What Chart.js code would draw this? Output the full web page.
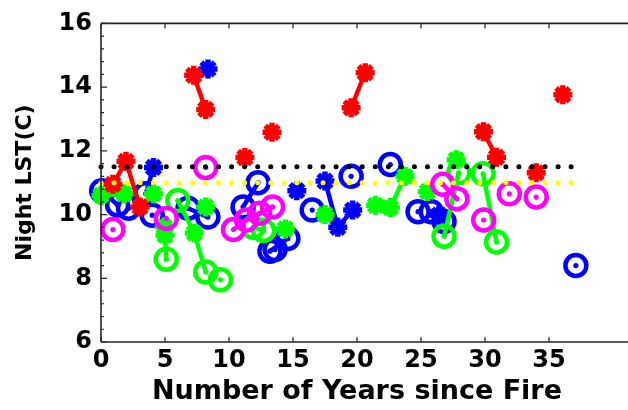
<!DOCTYPE html>
<html><head><meta charset="utf-8">
<script src="https://cdn.jsdelivr.net/npm/chart.js@4/dist/chart.umd.min.js"></script>
<style>html,body{margin:0;padding:0;background:#fff}canvas{display:block}</style>
</head><body>
<canvas id="c" width="628" height="410"></canvas>
<script>
// ---- tick labels ----
const xTicks = [0, 5, 10, 15, 20, 25, 30, 35];
const yTicks = [6, 8, 10, 12, 14, 16];

// ---- reference levels (dotted lines) ----
const refLevels = [11.5, 11.0];
const refColors = ['#000000', '#ffff00'];
const refSpan = [0, 37];

// ---- blue series ----
const blueX     = [0.05, 1.3,  4.1,  3.5,  2.15, 4.0,  6.8,  8.35, 8.36, 12.27, 11.1,  13.2, 14.6, 13.6, 15.3,  16.5,  17.5,  18.5, 19.66, 19.54, 22.6,  24.77, 25.8,  26.4, 26.8, 37.1];
const blueY     = [10.75, 10.3, 11.48, 10.65, 10.2, 9.98, 10.2, 9.92, 14.57, 11.0, 10.24, 8.85, 9.25, 8.9,  10.75, 10.14, 11.05, 9.6,  10.14, 11.2,  11.57, 10.09, 10.09, 9.98, 9.78, 8.4];
const blueKind  = ['o', 'o', '*', 'o', 'o', 'o', 'o', 'o', '*', 'o', 'o', 'o', 'o', 'o', '*', 'o', '*', '*', '*', 'o', 'o', 'o', 'o', '*', 'o', 'o'];
const blueGroup = [1, 1, 2, 2, 3, 4, 5, 5, 6, 7, 7, 8, 8, 9, 10, 11, 12, 12, 12, 13, 14, 15, 16, 16, 16, 17];

// ---- green series ----
const greenX     = [0.0,  1.8,   4.1,   4.95, 5.0,  5.1, 6.0,   7.29, 8.18, 8.18,  9.33, 11.9, 12.7, 14.4, 17.5, 21.45, 22.6,  23.75, 25.5,  26.8, 27.95, 27.75, 29.85, 30.9];
const greenY     = [10.6, 10.65, 10.65, 9.62, 9.35, 8.6, 10.44, 9.42, 8.2,  10.24, 7.95, 9.6,  9.5,  9.55, 10.0, 10.29, 10.22, 11.2,  10.72, 9.32, 11.31, 11.72, 11.28, 9.14];
const greenKind  = ['*', '*', '*', '*', '*', 'o', 'o', '*', 'o', '*', 'o', 'o', 'o', '*', '*', '*', '*', '*', '*', 'o', 'o', '*', 'o', 'o'];
const greenGroup = [1, 1, 2, 3, 3, 3, 4, 4, 4, 5, 6, 7, 7, 8, 9, 10, 10, 10, 11, 12, 12, 13, 14, 14];

// ---- magenta series ----
const magX     = [0.93, 5.1,  8.18,  10.35, 11.37, 12.4,  13.4,  26.7,  27.8, 29.9, 31.9,  34.0];
const magY     = [9.53, 9.88, 11.48, 9.53,  9.83,  10.04, 10.24, 10.95, 10.5, 9.83, 10.65, 10.55];
const magKind  = ['o', 'o', 'o', 'o', 'o', 'o', 'o', 'o', 'o', 'o', 'o', 'o'];
const magGroup = [1, 2, 3, 4, 4, 4, 4, 5, 5, 6, 7, 8];

// ---- red series ----
const redX     = [0.93,  1.95,  3.05,  7.24,  8.18, 11.24, 13.36, 19.54, 20.64, 29.88, 30.9, 34.0,  36.08];
const redY     = [10.95, 11.67, 10.24, 14.37, 13.3, 11.79, 12.58, 13.35, 14.45, 12.6,  11.8, 11.31, 13.76];
const redKind  = ['*', '*', '*', '*', '*', '*', '*', '*', '*', '*', '*', '*', '*'];
const redGroup = [1, 1, 1, 2, 2, 3, 4, 5, 5, 6, 6, 7, 8];

const FONT = 'DejaVu Sans';

function series(xs, ys, kinds, groups, color, order) {
  return {
    type: 'line',
    data: xs.map((x, i) => ({ x: x, y: ys[i] })),
    kinds: kinds,
    borderColor: color,
    backgroundColor: 'rgba(0,0,0,0)',
    borderWidth: 4.5,
    showLine: true,
    tension: 0,
    fill: false,
    clip: false,
    order: order,
    pointStyle: kinds.map(k => k === 'o' ? 'circle' : 'star'),
    pointRadius: kinds.map(k => k === 'o' ? 10.5 : 9.5),
    pointHoverRadius: kinds.map(k => k === 'o' ? 10.5 : 9.5),
    pointBorderWidth: kinds.map(k => k === 'o' ? 4.5 : 5.5),
    pointHoverBorderWidth: kinds.map(k => k === 'o' ? 4.5 : 5.5),
    pointBorderColor: color,
    pointBackgroundColor: 'rgba(0,0,0,0)',
    segment: {
      borderColor: ctx => groups[ctx.p0DataIndex] === groups[ctx.p1DataIndex] ? color : 'rgba(0,0,0,0)'
    }
  };
}

const refSets = refLevels.map((lvl, i) => ({
  type: 'line',
  data: refSpan.map(x => ({ x: x, y: lvl })),
  borderColor: refColors[i],
  borderWidth: 5,
  borderDash: [0, 13.06],
  borderCapStyle: 'round',
  pointRadius: 0,
  pointHoverRadius: 0,
  clip: false,
  order: 0
}));

const dotPlugin = {
  id: 'centerDots',
  afterDatasetDraw(chart, args) {
    const ds = chart.data.datasets[args.index];
    if (!ds.kinds) return;
    const ctx = chart.ctx;
    ctx.save();
    ctx.fillStyle = ds.borderColor;
    args.meta.data.forEach((el, i) => {
      if (ds.kinds[i] === 'o') {
        ctx.beginPath();
        ctx.arc(el.x, el.y, 2.6, 0, Math.PI * 2);
        ctx.fill();
      }
    });
    ctx.restore();
  }
};

const framePlugin = {
  id: 'frame',
  afterDraw(chart) {
    const { ctx, chartArea: a, scales: { x, y } } = chart;
    ctx.save();
    ctx.strokeStyle = '#262626';
    ctx.lineWidth = 1.6;
    ctx.beginPath();
    ctx.moveTo(a.left, a.top); ctx.lineTo(a.left, a.bottom);
    ctx.moveTo(a.left, a.bottom); ctx.lineTo(chart.width, a.bottom);
    ctx.moveTo(a.left, a.top); ctx.lineTo(chart.width, a.top);
    ctx.stroke();
    ctx.lineWidth = 1.2;
    ctx.beginPath();
    xTicks.forEach(v => {
      const px = x.getPixelForValue(v);
      ctx.moveTo(px, a.bottom); ctx.lineTo(px, a.bottom - 5);
      ctx.moveTo(px, a.top); ctx.lineTo(px, a.top + 5);
    });
    for (let i = 0; i < yTicks.length; i++) {
      const py = y.getPixelForValue(yTicks[i]);
      ctx.moveTo(a.left, py); ctx.lineTo(a.left + 6, py);
      if (i < yTicks.length - 1) {
        const step = (yTicks[i + 1] - yTicks[i]) / 5;
        for (let k = 1; k < 5; k++) {
          const pm = y.getPixelForValue(yTicks[i] + k * step);
          ctx.moveTo(a.left, pm); ctx.lineTo(a.left + 3, pm);
        }
      }
    }
    ctx.stroke();
    ctx.restore();
  }
};

new Chart(document.getElementById('c'), {
  type: 'line',
  data: {
    datasets: [
      ...refSets,
      series(redX, redY, redKind, redGroup, '#ff0000', 1),
      series(magX, magY, magKind, magGroup, '#ff00ff', 2),
      series(greenX, greenY, greenKind, greenGroup, '#00ff00', 3),
      series(blueX, blueY, blueKind, blueGroup, '#0000ff', 4)
    ]
  },
  options: {
    responsive: false,
    devicePixelRatio: 1,
    animation: false,
    events: [],
    layout: { padding: { top: 15, right: 4, left: 0, bottom: 0 } },
    plugins: { legend: { display: false }, tooltip: { enabled: false } },
    scales: {
      x: {
        type: 'linear', min: 0, max: 40,
        grid: { display: false, drawTicks: false },
        border: { display: false },
        afterBuildTicks: s => { s.ticks = xTicks.map(v => ({ value: v })); },
        afterFit: s => { s.height = 68; },
        ticks: { autoSkip: false, maxRotation: 0, padding: 4, color: '#000',
                 font: { family: FONT, weight: 'bold', size: 24 } },
        title: { display: true, text: 'Number of Years since Fire', color: '#000',
                 font: { family: FONT, weight: 'bold', size: 27 }, padding: { top: 0, bottom: 2 } }
      },
      y: {
        type: 'linear', min: 6, max: 16,
        grid: { display: false, drawTicks: false },
        border: { display: false },
        afterBuildTicks: s => { s.ticks = yTicks.map(v => ({ value: v })); },
        afterFit: s => { s.width = 101; },
        ticks: { autoSkip: false, padding: 9, color: '#000',
                 font: { family: FONT, weight: 'bold', size: 24 } },
        title: { display: true, text: 'Night LST(C)', color: '#000',
                 font: { family: FONT, weight: 'bold', size: 22 }, padding: { top: 12, bottom: 0 } }
      }
    }
  },
  plugins: [dotPlugin, framePlugin]
});
</script>
</body></html>
